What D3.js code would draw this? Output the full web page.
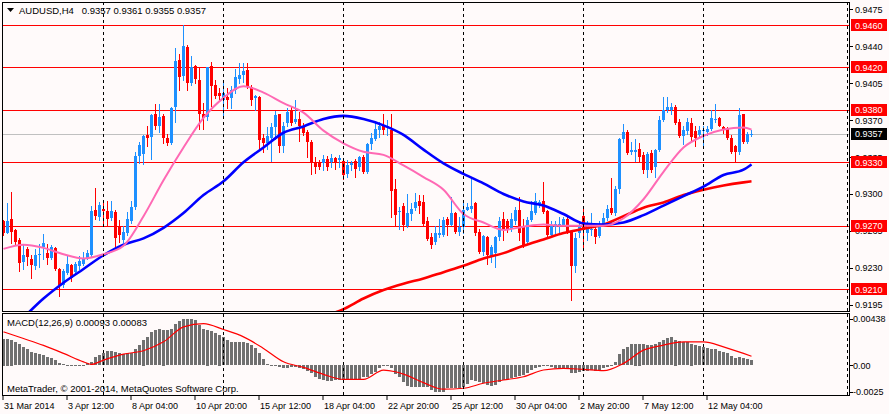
<!DOCTYPE html>
<html>
<head>
<meta charset="utf-8">
<script src="https://cdn.jsdelivr.net/npm/d3@7"></script>
<style>
body { margin: 0; background: #fffafa; }
svg { display: block; font-family: "Liberation Sans", Arial, sans-serif; }
</style>
</head>
<body>
<svg id="chart"></svg>
<script>
// AUDUSD H4 candles (bar 0 = leftmost)
let opens = [
 .9274,.9263,.9276,.9266,.9256,.9236,.9248,.9238,.9232,.9242,
 .9250,.9244,.9239,.9249,.9229,.9214,.9225,.9233,.9226,.9232,
 .9234,.9238,.9242,.9285,.9278,.9286,.9284,.9277,.9283,.9269,
 .9256,.9263,.9274,.9288,.9336,.9338,.9356,.9354,.9376,.9364,
 .9374,.9353,.9348,.9382,.9427,.9412,.9439,.9405,.9421,.9408,
 .9376,.9373,.9421,.9403,.9396,.9389,.9392,.9391,.9398,.9409,
 .9413,.9417,.9401,.9391,.9392,.9353,.9348,.9353,.9363,.9376,
 .9345,.9367,.9379,.9368,.9371,.9364,.9359,.9349,.9330,.9330,
 .9329,.9333,.9330,.9334,.9332,.9331,.9319,.9327,.9331,.9326,
 .9335,.9321,.9347,.9352,.9361,.9364,.9363,.9361,.9305,.9283,
 .9289,.9270,.9281,.9287,.9293,.9292,.9274,.9259,.9255,.9261,
 .9261,.9276,.9271,.9282,.9264,.9269,.9285,.9286,.9291,.9264,
 .9245,.9259,.9241,.9244,.9259,.9276,.9274,.9267,.9274,.9285,
 .9269,.9255,.9275,.9282,.9290,.9293,.9284,.9261,.9269,.9270,
 .9271,.9276,.9264,.9232,.9263,.9279,.9263,.9266,.9267,.9260,
 .9272,.9277,.9287,.9282,.9305,.9352,.9359,.9340,.9340,.9343,
 .9337,.9323,.9339,.9326,.9342,.9370,.9380,.9380,.9382,.9368,
 .9355,.9360,.9367,.9360,.9356,.9360,.9359,.9362,.9370,.9372,
 .9363,.9362,.9353,.9345,.9340,.9376,.9349,.9357];
let highs = [
 .9275,.9291,.9302,.9267,.9258,.9252,.9250,.9242,.9248,.9253,
 .9262,.9253,.9252,.9250,.9230,.9229,.9242,.9234,.9236,.9241,
 .9245,.9247,.9289,.9306,.9292,.9294,.9293,.9293,.9285,.9275,
 .9270,.9283,.9293,.9340,.9349,.9356,.9364,.9376,.9385,.9385,
 .9376,.9357,.9382,.9438,.9433,.9460,.9441,.9431,.9422,.9420,
 .9386,.9420,.9425,.9408,.9400,.9408,.9400,.9402,.9418,.9424,
 .9424,.9424,.9403,.9394,.9393,.9357,.9363,.9367,.9379,.9376,
 .9368,.9381,.9383,.9389,.9378,.9367,.9361,.9351,.9335,.9332,
 .9337,.9336,.9338,.9335,.9337,.9332,.9332,.9331,.9333,.9336,
 .9337,.9348,.9358,.9367,.9368,.9376,.9370,.9376,.9314,.9288,
 .9291,.9300,.9291,.9301,.9299,.9299,.9278,.9263,.9270,.9276,
 .9278,.9278,.9297,.9283,.9278,.9291,.9291,.9316,.9292,.9267,
 .9261,.9260,.9252,.9260,.9278,.9283,.9276,.9282,.9288,.9297,
 .9276,.9278,.9293,.9301,.9294,.9311,.9285,.9274,.9274,.9278,
 .9278,.9278,.9266,.9263,.9274,.9288,.9274,.9282,.9271,.9274,
 .9282,.9290,.9315,.9308,.9353,.9366,.9361,.9349,.9352,.9348,
 .9340,.9340,.9342,.9343,.9374,.9392,.9392,.9386,.9384,.9371,
 .9364,.9372,.9372,.9364,.9364,.9364,.9364,.9380,.9385,.9373,
 .9364,.9363,.9356,.9346,.9381,.9376,.9359,.9361];
let lows = [
 .9261,.9263,.9254,.9253,.9227,.9229,.9233,.9220,.9229,.9231,
 .9238,.9234,.9238,.9228,.9203,.9212,.9224,.9218,.9225,.9229,
 .9233,.9238,.9241,.9276,.9275,.9271,.9271,.9275,.9250,.9255,
 .9255,.9261,.9273,.9286,.9329,.9328,.9345,.9333,.9362,.9359,
 .9348,.9346,.9347,.9368,.9398,.9408,.9398,.9403,.9405,.9362,
 .9362,.9370,.9383,.9391,.9390,.9374,.9381,.9381,.9396,.9405,
 .9406,.9400,.9384,.9380,.9342,.9340,.9343,.9331,.9352,.9340,
 .9340,.9364,.9365,.9367,.9350,.9356,.9335,.9319,.9320,.9324,
 .9323,.9323,.9326,.9324,.9326,.9314,.9316,.9323,.9316,.9323,
 .9320,.9320,.9343,.9351,.9354,.9357,.9356,.9278,.9270,.9267,
 .9266,.9269,.9275,.9285,.9282,.9271,.9256,.9249,.9253,.9259,
 .9260,.9261,.9271,.9263,.9261,.9263,.9285,.9283,.9261,.9244,
 .9242,.9234,.9236,.9231,.9256,.9256,.9264,.9265,.9272,.9256,
 .9250,.9253,.9274,.9281,.9288,.9282,.9259,.9260,.9263,.9263,
 .9271,.9263,.9200,.9226,.9259,.9250,.9256,.9261,.9254,.9259,
 .9271,.9275,.9281,.9280,.9301,.9349,.9338,.9338,.9331,.9331,
 .9320,.9316,.9321,.9316,.9341,.9369,.9378,.9376,.9366,.9354,
 .9347,.9357,.9350,.9345,.9354,.9346,.9356,.9361,.9368,.9364,
 .9358,.9352,.9339,.9331,.9338,.9348,.9348,.9355];
let closes = [
 .9263,.9274,.9264,.9255,.9235,.9242,.9240,.9233,.9242,.9243,
 .9254,.9239,.9250,.9229,.9214,.9227,.9234,.9220,.9234,.9237,
 .9239,.9244,.9284,.9279,.9290,.9284,.9276,.9284,.9258,.9261,
 .9264,.9276,.9288,.9336,.9346,.9355,.9353,.9375,.9364,.9373,
 .9353,.9348,.9381,.9426,.9411,.9440,.9405,.9420,.9409,.9376,
 .9372,.9420,.9402,.9393,.9393,.9396,.9389,.9398,.9411,.9413,
 .9416,.9401,.9389,.9393,.9351,.9348,.9355,.9363,.9375,.9345,
 .9364,.9378,.9367,.9371,.9364,.9358,.9349,.9330,.9326,.9326,
 .9333,.9326,.9334,.9330,.9334,.9318,.9327,.9329,.9324,.9335,
 .9321,.9347,.9353,.9362,.9364,.9361,.9364,.9303,.9280,.9284,
 .9271,.9282,.9286,.9292,.9289,.9272,.9257,.9252,.9263,.9263,
 .9275,.9271,.9282,.9264,.9269,.9285,.9288,.9289,.9263,.9245,
 .9260,.9242,.9250,.9259,.9274,.9266,.9266,.9276,.9285,.9263,
 .9252,.9275,.9284,.9293,.9292,.9283,.9261,.9271,.9272,.9272,
 .9276,.9264,.9232,.9258,.9270,.9266,.9269,.9267,.9259,.9272,
 .9277,.9286,.9282,.9305,.9352,.9359,.9339,.9342,.9342,.9335,
 .9323,.9338,.9323,.9342,.9370,.9380,.9382,.9382,.9367,.9355,
 .9361,.9368,.9354,.9353,.9361,.9361,.9362,.9372,.9371,.9364,
 .9361,.9353,.9340,.9340,.9375,.9349,.9357,.9357];

// moving averages, sampled every few bars
let maBars = [0,5,10,15,20,25,30,35,40,45,50,55,60,65,70,75,80,85,90,95,100,105,110,115,120,125,130,135,140,145,150,155,160,165,170,175,180,185,187];
let maFast = [.9248,.9252,.9249,.9243,.9239,.9243,.9251,.9279,.9313,.9344,.9372,.9391,.9402,.9396,.9386,.9377,.9360,.9348,.9340,.9337,
              .9327,.9316,.9304,.9281,.9273,.9266,.9269,.9271,.9270,.9270,.9270,.9277,.9295,.9321,.9344,.9355,.9361,.9363,.9361];
let maMid = [.9164,.9183,.9201,.9216,.9229,.9242,.9252,.9258,.9268,.9282,.9299,.9312,.9330,.9344,.9358,.9364,.9371,.9374,.9371,.9365,
             .9356,.9342,.9329,.9319,.9310,.9300,.9293,.9289,.9281,.9272,.9271,.9273,.9280,.9289,.9298,.9307,.9318,.9323,.9328];
let slowBars = [80,85,90,95,100,105,110,115,120,125,130,135,140,145,150,155,160,165,170,175,180,185,187];
let maSlow = [.9184,.9191,.9201,.9209,.9215,.9220,.9226,.9232,.9239,.9244,.9251,.9257,.9263,.9267,.9271,.9279,.9287,.9292,.9299,.9304,.9308,.9311,.9312];

// MACD(12,26,9): main as histogram, signal as line
let macdHist = [
 .00250,.00250,.00241,.00219,.00197,.00172,.00150,.00125,.00116,.00103,
 .00091,.00078,.00063,.00047,.00022,.00009,.00002,.00003,.00002,.00002,
 .00004,.00016,.00031,.00072,.00094,.00116,.00131,.00131,.00125,.00110,
 .00103,.00110,.00116,.00147,.00188,.00241,.00266,.00313,.00329,.00344,
 .00335,.00329,.00344,.00391,.00416,.00438,.00432,.00432,.00423,.00382,
 .00344,.00335,.00322,.00304,.00288,.00260,.00235,.00219,.00219,.00219,
 .00219,.00210,.00188,.00157,.00110,.00053,.00009,.00003,-.00002,-.00022,
 -.00031,-.00031,-.00022,-.00016,-.00025,-.00041,-.00053,-.00078,-.00110,-.00128,
 -.00141,-.00147,-.00147,-.00141,-.00141,-.00141,-.00141,-.00141,-.00141,-.00135,
 -.00116,-.00110,-.00085,-.00063,-.00031,-.00009,.00003,-.00031,-.00085,-.00110,
 -.00157,-.00197,-.00203,-.00203,-.00210,-.00210,-.00210,-.00235,-.00250,-.00250,
 -.00250,-.00219,-.00219,-.00219,-.00219,-.00210,-.00178,-.00141,-.00147,-.00157,
 -.00172,-.00188,-.00194,-.00188,-.00157,-.00141,-.00135,-.00125,-.00110,-.00100,
 -.00094,-.00072,-.00047,-.00031,-.00016,.00004,-.00009,-.00022,-.00031,-.00031,
 -.00031,-.00041,-.00078,-.00072,-.00063,-.00056,-.00053,-.00047,-.00053,-.00047,
 -.00031,-.00016,-.00002,.00031,.00103,.00150,.00172,.00194,.00203,.00203,
 .00197,.00188,.00188,.00197,.00219,.00235,.00257,.00260,.00241,.00225,
 .00219,.00219,.00203,.00188,.00178,.00166,.00157,.00150,.00147,.00135,
 .00125,.00110,.00085,.00063,.00072,.00063,.00056,.00050];
let signalBars = [0,5,10,15,20,22,25,30,35,40,45,50,55,60,65,70,75,80,85,90,95,98,100,105,110,115,120,125,130,135,140,145,150,155,160,165,170,175,180,185,187];
let macdSignal = [.00313,.00250,.00185,.00110,.00030,.00006,.00047,.00103,.00135,.00219,.00360,.00391,.00335,.00266,.00157,.00031,-.00022,-.00088,-.00135,-.00135,
                  -.00047,-.00063,-.00085,-.00166,-.00228,-.00219,-.00172,-.00141,-.00110,-.00047,-.00031,-.00041,-.00053,.00016,.00141,.00188,.00219,.00219,.00172,.00110,.00083];

// levels, ticks and labels
let levels = [0.9460, 0.9420, 0.9380, 0.9330, 0.9270, 0.9210];
let bid = 0.9357;
let priceTicks = [0.9475, 0.9440, 0.9405, 0.9370, 0.9335, 0.9300, 0.9265, 0.9230, 0.9195];
let macdTicks = [0.00438, 0, -0.0025];
let macdTickLabels = ['0.00438', '0.00', '-0.0025'];
let timeBars = [0,16,32,48,64,80,96,112,128,144,160,176];
let timeLabels = ['31 Mar 2014','3 Apr 12:00','8 Apr 04:00','10 Apr 20:00','15 Apr 12:00','18 Apr 04:00',
                  '22 Apr 20:00','25 Apr 12:00','30 Apr 04:00','2 May 20:00','7 May 12:00','12 May 04:00'];
let gridBars = [25,55,85,115,145,175];

let makeChart = function () {
    let width = 889, height = 414;
    let left = 2, right = 849, top = 2, mainBottom = 311, macdTop = 313, macdBottom = 396;

    let svg = d3.select('#chart').attr('width', width).attr('height', height);
    svg.append('rect').attr('width', width).attr('height', height).attr('fill', '#fffafa');

    let x = d3.scaleLinear().domain([0, 187]).range([3.5, 751.5]);
    let y = d3.scaleLinear().domain([0.91892, 0.94818]).range([mainBottom, top]);
    let ym = d3.scaleLinear().domain([-0.00292, 0.00491]).range([macdBottom, macdTop]);
    let crisp = function (v) { return Math.round(v) + 0.5; };

    let defs = svg.append('defs');
    defs.append('clipPath').attr('id', 'mainClip').append('rect')
        .attr('x', left + 1).attr('y', top + 1).attr('width', right - left - 1).attr('height', mainBottom - top - 1);
    defs.append('clipPath').attr('id', 'macdClip').append('rect')
        .attr('x', left + 1).attr('y', macdTop + 1).attr('width', right - left - 1).attr('height', macdBottom - macdTop - 1);

    let main = svg.append('g').attr('clip-path', 'url(#mainClip)');
    let macd = svg.append('g').attr('clip-path', 'url(#macdClip)');

    // vertical dashed grid, plus the one hugging the right border
    let grid = svg.append('g').style('stroke', '#000').style('stroke-dasharray', '3,3');
    grid.selectAll('line')
        .data(gridBars).enter().append('line')
        .attr('x1', function (d) { return x(d); })
        .attr('x2', function (d) { return x(d); })
        .attr('y1', top).attr('y2', macdBottom);
    grid.append('line')
        .attr('x1', right - 1.5).attr('x2', right - 1.5)
        .attr('y1', top).attr('y2', macdBottom);

    // horizontal levels
    main.selectAll('line.level')
        .data(levels).enter().append('line').attr('class', 'level')
        .attr('x1', left).attr('x2', right)
        .attr('y1', function (d) { return crisp(y(d)); })
        .attr('y2', function (d) { return crisp(y(d)); })
        .style('stroke', '#ff0000');
    main.append('line')
        .attr('x1', left).attr('x2', right)
        .attr('y1', crisp(y(bid))).attr('y2', crisp(y(bid)))
        .style('stroke', '#c0c0c0');

    // candles
    let bars = d3.range(opens.length);
    let colour = function (i) { return closes[i] >= opens[i] ? '#1e90ff' : '#ff0000'; };
    main.selectAll('line.wick')
        .data(bars).enter().append('line').attr('class', 'wick')
        .attr('x1', function (i) { return x(i); })
        .attr('x2', function (i) { return x(i); })
        .attr('y1', function (i) { return Math.round(y(highs[i])); })
        .attr('y2', function (i) { return Math.round(y(lows[i])) + 1; })
        .style('stroke', colour);
    main.selectAll('rect.body')
        .data(bars).enter().append('rect').attr('class', 'body')
        .attr('x', function (i) { return x(i) - 1.5; })
        .attr('width', 3)
        .attr('y', function (i) { return Math.round(y(Math.max(opens[i], closes[i]))); })
        .attr('height', function (i) {
            return Math.max(1, Math.round(y(Math.min(opens[i], closes[i]))) - Math.round(y(Math.max(opens[i], closes[i]))));
        })
        .style('fill', colour);

    // moving averages
    let maLine = function (idx) {
        return d3.line()
            .x(function (d, i) { return x(idx[i]); })
            .y(function (d) { return y(d); })
            .curve(d3.curveMonotoneX);
    };
    main.append('path').attr('d', maLine(slowBars)(maSlow))
        .style('fill', 'none').style('stroke', '#ff0000').style('stroke-width', 2.6);
    main.append('path').attr('d', maLine(maBars)(maMid))
        .style('fill', 'none').style('stroke', '#0000ff').style('stroke-width', 2.6);
    main.append('path').attr('d', maLine(maBars)(maFast))
        .style('fill', 'none').style('stroke', '#ff69b4').style('stroke-width', 2);

    // MACD histogram and signal
    macd.selectAll('rect')
        .data(bars).enter().append('rect')
        .attr('x', function (i) { return x(i) - 1.5; })
        .attr('width', 3)
        .attr('y', function (i) { return Math.round(Math.min(ym(macdHist[i]), ym(0))); })
        .attr('height', function (i) { return Math.max(1, Math.round(Math.abs(ym(macdHist[i]) - ym(0)))); })
        .style('fill', '#707070');
    macd.append('path')
        .attr('d', d3.line()
            .x(function (d, i) { return x(signalBars[i]); })
            .y(function (d) { return ym(d); })
            .curve(d3.curveMonotoneX)(macdSignal))
        .style('fill', 'none').style('stroke', '#ff0000').style('stroke-width', 1.2);

    // panel borders
    svg.append('rect').attr('x', left + 0.5).attr('y', top + 0.5)
        .attr('width', right - left).attr('height', mainBottom - top)
        .style('fill', 'none').style('stroke', '#000');
    svg.append('rect').attr('x', left + 0.5).attr('y', macdTop + 0.5)
        .attr('width', right - left).attr('height', macdBottom - macdTop - 1)
        .style('fill', 'none').style('stroke', '#000');

    // price axis
    let axis = svg.append('g').style('font-size', '9px');
    axis.selectAll('line.pt')
        .data(priceTicks).enter().append('line').attr('class', 'pt')
        .attr('x1', right + 1).attr('x2', right + 4)
        .attr('y1', function (d) { return crisp(y(d)); })
        .attr('y2', function (d) { return crisp(y(d)); })
        .style('stroke', '#000');
    axis.selectAll('text.pt')
        .data(priceTicks).enter().append('text').attr('class', 'pt')
        .attr('x', 855).attr('y', function (d) { return y(d) + 3.5; })
        .text(function (d) { return d3.format('.4f')(d); });

    let tag = function (value, fill) {
        let g = axis.append('g');
        g.append('rect').attr('x', right + 2).attr('y', Math.round(y(value)) - 6)
            .attr('width', 36).attr('height', 12).style('fill', fill);
        g.append('text').attr('x', 855).attr('y', y(value) + 3.5)
            .style('fill', '#fff').text(d3.format('.4f')(value));
    };
    levels.forEach(function (d) { tag(d, '#ff0000'); });
    tag(bid, '#000');

    // MACD axis
    axis.selectAll('line.mt')
        .data(macdTicks).enter().append('line').attr('class', 'mt')
        .attr('x1', right + 1).attr('x2', right + 4)
        .attr('y1', function (d) { return crisp(ym(d)); })
        .attr('y2', function (d) { return crisp(ym(d)); })
        .style('stroke', '#000');
    axis.selectAll('text.mt')
        .data(macdTicks).enter().append('text').attr('class', 'mt')
        .attr('x', 853).attr('y', function (d) { return ym(d) + 3.5; })
        .text(function (d, i) { return macdTickLabels[i]; });

    // time axis
    axis.selectAll('line.tt')
        .data(timeBars).enter().append('line').attr('class', 'tt')
        .attr('x1', function (d) { return x(d) - 0.5; })
        .attr('x2', function (d) { return x(d) - 0.5; })
        .attr('y1', macdBottom).attr('y2', macdBottom + 4)
        .style('stroke', '#000');
    axis.selectAll('text.tt')
        .data(timeBars).enter().append('text').attr('class', 'tt')
        .attr('x', function (d) { return x(d) + 0.5; })
        .attr('y', 409)
        .text(function (d, i) { return timeLabels[i]; });

    // captions
    svg.append('path').attr('d', 'M7,8 L14,8 L10.5,12 Z').style('fill', '#000');
    svg.append('text').attr('x', 19).attr('y', 14).style('font-size', '9.5px')
        .text('AUDUSD,H4\u00a0\u00a0 0.9357 0.9361 0.9355 0.9357');
    svg.append('text').attr('x', 7).attr('y', 326).style('font-size', '9.5px')
        .text('MACD(12,26,9) 0.00093 0.00083');
    svg.append('text').attr('x', 7).attr('y', 392).style('font-size', '9.5px')
        .text('MetaTrader, \u00a9 2001-2014, MetaQuotes Software Corp.');
};

makeChart();
</script>
</body>
</html>
